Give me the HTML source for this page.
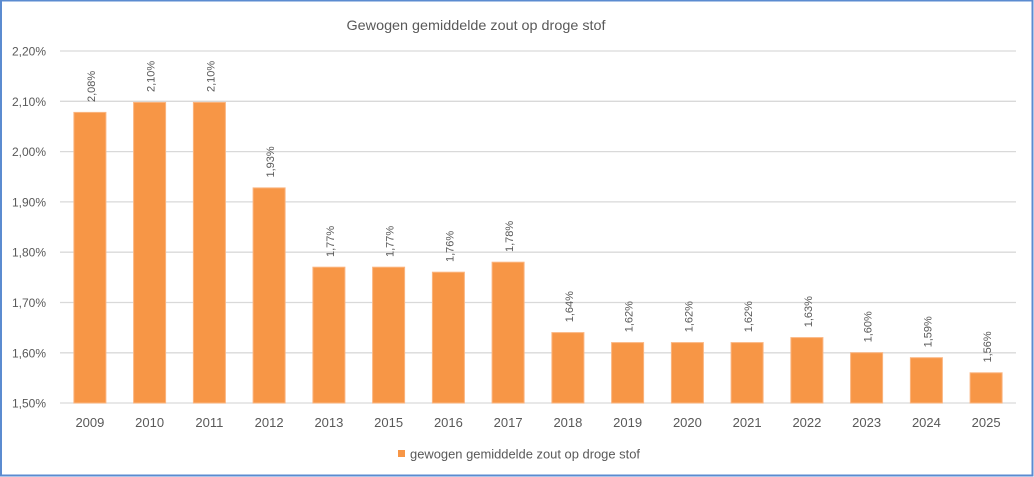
<!DOCTYPE html>
<html><head><meta charset="utf-8"><style>
html,body{margin:0;padding:0;background:#fff;}
svg{display:block;}
</style></head><body>
<svg width="1034" height="477" viewBox="0 0 1034 477" xmlns="http://www.w3.org/2000/svg" font-family="'Liberation Sans', sans-serif">
<rect x="0" y="0" width="1034" height="477" fill="#fff"/>
<!-- border -->
<rect x="1" y="0.5" width="1031.5" height="475" fill="none" stroke="#5B8BD0" stroke-width="2"/>
<!-- title -->
<text x="476" y="30" text-anchor="middle" font-size="14" fill="#595959" textLength="259" lengthAdjust="spacingAndGlyphs">Gewogen gemiddelde zout op droge stof</text>
<!-- gridlines -->
<g stroke="#D9D9D9" stroke-width="1.3">
<line x1="60" x2="1016" y1="51" y2="51"/>
<line x1="60" x2="1016" y1="101.3" y2="101.3"/>
<line x1="60" x2="1016" y1="151.6" y2="151.6"/>
<line x1="60" x2="1016" y1="201.9" y2="201.9"/>
<line x1="60" x2="1016" y1="252.2" y2="252.2"/>
<line x1="60" x2="1016" y1="302.5" y2="302.5"/>
<line x1="60" x2="1016" y1="352.8" y2="352.8"/>
<line x1="60" x2="1016" y1="403" y2="403"/>
</g>
<!-- y labels -->
<g font-size="12" fill="#595959" text-anchor="end">
<text x="46" y="55.5">2,20%</text>
<text x="46" y="105.8">2,10%</text>
<text x="46" y="156.1">2,00%</text>
<text x="46" y="206.4">1,90%</text>
<text x="46" y="256.7">1,80%</text>
<text x="46" y="307">1,70%</text>
<text x="46" y="357.3">1,60%</text>
<text x="46" y="407.5">1,50%</text>
</g>
<!-- bars -->
<g fill="#F79646" stroke="#FBB580" stroke-width="1">
<rect x="73.9" y="112.4" width="32" height="290.6"/>
<rect x="133.6" y="102.4" width="32" height="300.6"/>
<rect x="193.4" y="102.4" width="32" height="300.6"/>
<rect x="253.1" y="187.9" width="32" height="215.1"/>
<rect x="312.9" y="267.2" width="32" height="135.8"/>
<rect x="372.6" y="267.2" width="32" height="135.8"/>
<rect x="432.4" y="272.2" width="32" height="130.8"/>
<rect x="492.1" y="262.2" width="32" height="140.8"/>
<rect x="551.9" y="332.6" width="32" height="70.4"/>
<rect x="611.6" y="342.6" width="32" height="60.4"/>
<rect x="671.4" y="342.6" width="32" height="60.4"/>
<rect x="731.1" y="342.6" width="32" height="60.4"/>
<rect x="790.9" y="337.6" width="32" height="65.4"/>
<rect x="850.6" y="352.7" width="32" height="50.3"/>
<rect x="910.4" y="357.7" width="32" height="45.3"/>
<rect x="970.1" y="372.8" width="32" height="30.2"/>
</g>
<!-- data labels -->
<g font-size="11" fill="#595959">
<text transform="translate(95,102) rotate(-90)">2,08%</text>
<text transform="translate(154.6,92) rotate(-90)">2,10%</text>
<text transform="translate(214.4,92) rotate(-90)">2,10%</text>
<text transform="translate(274.1,177.5) rotate(-90)">1,93%</text>
<text transform="translate(333.9,257) rotate(-90)">1,77%</text>
<text transform="translate(393.6,257) rotate(-90)">1,77%</text>
<text transform="translate(453.4,262) rotate(-90)">1,76%</text>
<text transform="translate(513.1,252) rotate(-90)">1,78%</text>
<text transform="translate(572.9,322.3) rotate(-90)">1,64%</text>
<text transform="translate(632.6,332.3) rotate(-90)">1,62%</text>
<text transform="translate(692.4,332.3) rotate(-90)">1,62%</text>
<text transform="translate(752.1,332.3) rotate(-90)">1,62%</text>
<text transform="translate(811.9,327.3) rotate(-90)">1,63%</text>
<text transform="translate(871.6,342.4) rotate(-90)">1,60%</text>
<text transform="translate(931.4,347.4) rotate(-90)">1,59%</text>
<text transform="translate(991.1,362.5) rotate(-90)">1,56%</text>
</g>
<!-- x labels -->
<g font-size="13" fill="#595959" text-anchor="middle">
<text x="89.9" y="427">2009</text>
<text x="149.6" y="427">2010</text>
<text x="209.4" y="427">2011</text>
<text x="269.1" y="427">2012</text>
<text x="328.9" y="427">2013</text>
<text x="388.6" y="427">2015</text>
<text x="448.4" y="427">2016</text>
<text x="508.1" y="427">2017</text>
<text x="567.9" y="427">2018</text>
<text x="627.6" y="427">2019</text>
<text x="687.4" y="427">2020</text>
<text x="747.1" y="427">2021</text>
<text x="806.9" y="427">2022</text>
<text x="866.6" y="427">2023</text>
<text x="926.4" y="427">2024</text>
<text x="986.1" y="427">2025</text>
</g>
<!-- legend -->
<rect x="398" y="450" width="7" height="7" fill="#F79646"/>
<text x="410" y="458.5" font-size="13" fill="#595959" textLength="230" lengthAdjust="spacingAndGlyphs">gewogen gemiddelde zout op droge stof</text>
</svg>
</body></html>
